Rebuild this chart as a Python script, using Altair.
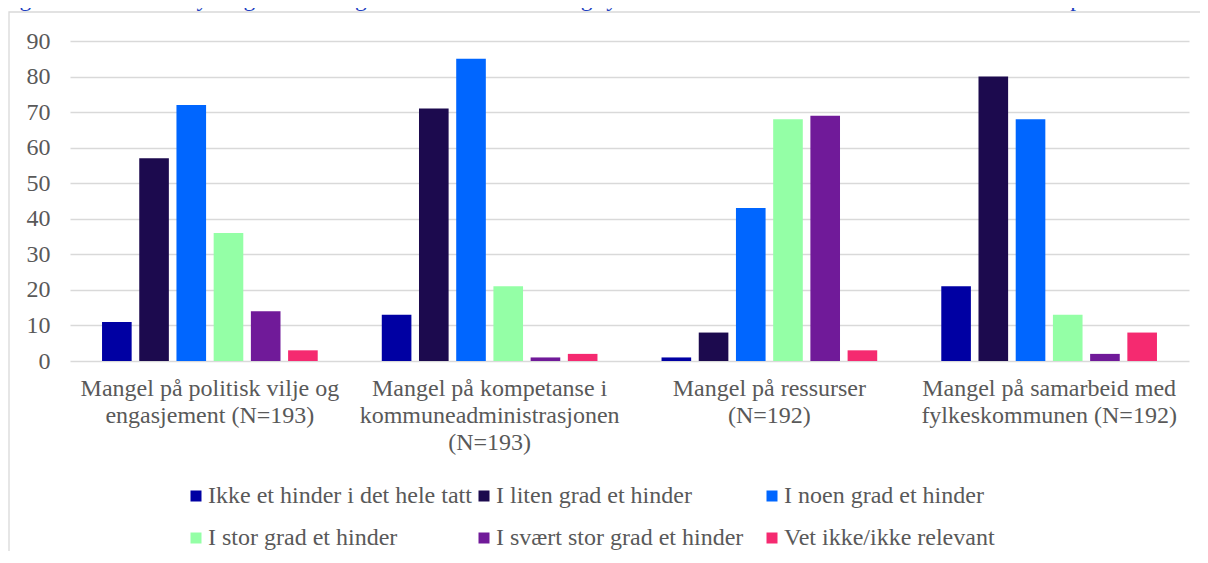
import altair as alt
import pandas as pd

FONT = "'Liberation Serif', 'Times New Roman', Times, serif"
GRAY_TEXT = "#595959"
GRID = "#d9d9d9"

title_text = ("Figur 22: Hva er de tydeligste hindringene for at kommuner og "
              "fylkeskommuner kan videreutvikle en lokal kulturpolitikk?")

category_labels = [
    "Mangel på politisk vilje og|engasjement (N=193)",
    "Mangel på kompetanse i|kommuneadministrasjonen|(N=193)",
    "Mangel på ressurser|(N=192)",
    "Mangel på samarbeid med|fylkeskommunen (N=192)",
]

series = [
    "Ikke et hinder i det hele tatt",
    "I liten grad et hinder",
    "I noen grad et hinder",
    "I stor grad et hinder",
    "I svært stor grad et hinder",
    "Vet ikke/ikke relevant",
]

colors = ["#0000A3", "#1C0A4E", "#0066FF", "#94FFA6", "#701A99", "#F52A70"]

values_politisk = [11, 57, 72, 36, 14, 3]
values_kompetanse = [13, 71, 85, 21, 1, 2]
values_ressurser = [1, 8, 43, 68, 69, 3]
values_samarbeid = [21, 80, 68, 13, 2, 8]

y_ticks = [0, 10, 20, 30, 40, 50, 60, 70, 80, 90]

rows = []
for cat, vals in zip(category_labels,
                     [values_politisk, values_kompetanse, values_ressurser, values_samarbeid]):
    for s, v in zip(series, vals):
        rows.append({"kategori": cat, "serie": s, "verdi": v})
df = pd.DataFrame(rows)

bars = alt.Chart(df).mark_bar().encode(
    x=alt.X(
        "kategori:N",
        sort=category_labels,
        scale=alt.Scale(paddingInner=0.229, paddingOuter=0.1145),
        axis=alt.Axis(
            title=None,
            labelExpr="split(datum.label, '|')",
            labelAngle=0,
            ticks=False,
            domain=False,
            grid=False,
            labelPadding=15,
            labelFontSize=24,
            labelLineHeight=27,
            labelFont=FONT,
            labelColor=GRAY_TEXT,
            labelLimit=500,
        ),
    ),
    xOffset=alt.XOffset(
        "serie:N", sort=series, scale=alt.Scale(paddingInner=0.204, paddingOuter=0)
    ),
    y=alt.Y(
        "verdi:Q",
        scale=alt.Scale(domain=[0, 90], nice=False),
        axis=alt.Axis(
            title=None,
            values=y_ticks,
            ticks=False,
            tickSize=0,
            domain=False,
            grid=True,
            gridColor=GRID,
            gridWidth=1.3,
            labelPadding=20,
            labelFontSize=24,
            labelFont=FONT,
            labelColor=GRAY_TEXT,
        ),
    ),
    color=alt.Color(
        "serie:N",
        sort=series,
        scale=alt.Scale(domain=series, range=colors),
        legend=alt.Legend(
            title=None,
            orient="none",
            direction="horizontal",
            legendX=114,
            legendY=443,
            columns=3,
            gridAlign="all",
            symbolType="square",
            symbolSize=121,
            symbolStrokeWidth=0,
            symbolOpacity=1,
            labelFontSize=24,
            labelFont=FONT,
            labelColor=GRAY_TEXT,
            labelOffset=0,
            columnPadding=0,
            rowPadding=18,
            padding=0,
            labelLimit=500,
        ),
    ),
)

frame = alt.Chart(pd.DataFrame({"f": [0]})).mark_rect(
    filled=False, stroke=GRID, strokeWidth=1.3
).encode(
    x=alt.value(-61), x2=alt.value(1400), y=alt.value(-29), y2=alt.value(900)
)

title = alt.Chart(pd.DataFrame({"t": [title_text]})).mark_text(
    align="left", baseline="alphabetic", fontSize=23.5, font=FONT, color="#2040C0"
).encode(text="t:N", x=alt.value(-70), y=alt.value(-35))

chart = alt.layer(frame, bars, title).properties(
    width=1119,
    height=320,
    autosize=alt.AutoSizeParams(type="none"),
    padding={"left": 62, "top": 33, "right": 11, "bottom": 190},
    background="white",
).configure_view(stroke=None)

chart.save("out.html", embed_options={"renderer": "svg", "actions": False})
